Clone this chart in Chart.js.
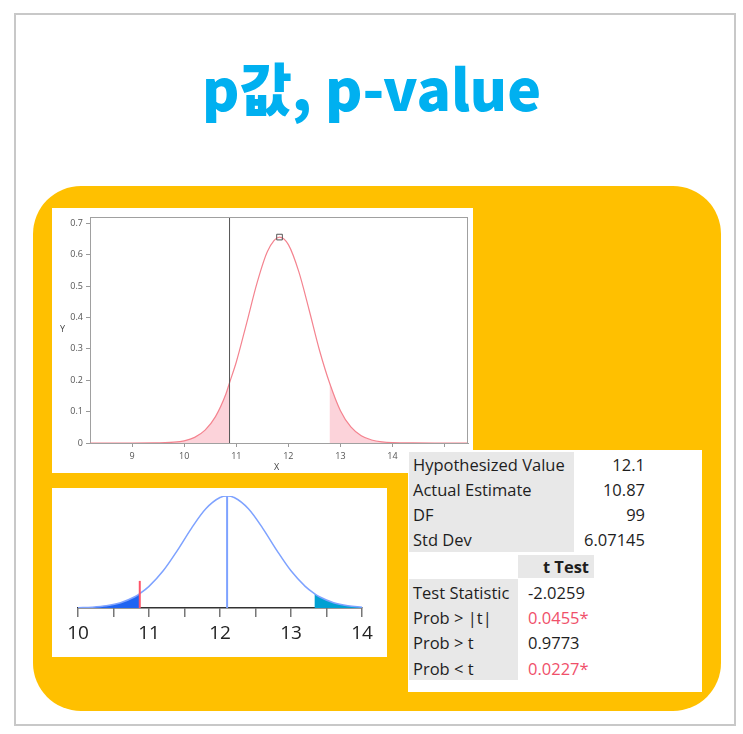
<!DOCTYPE html>
<html>
<head>
<meta charset="utf-8">
<script src="https://cdn.jsdelivr.net/npm/chart.js@4.4.0/dist/chart.umd.min.js"></script>
<style>
body { margin: 0; background: #fff; font-family: "Open Sans", sans-serif; }
#pagina { position: relative; width: 743px; height: 734px; overflow: hidden; }
.abs { position: absolute; }
#marco { left: 14px; top: 13px; width: 718px; height: 709px; border: 2px solid #c8c8c8; }
#titulo { left: 0; top: 58px; width: 743px; text-align: center; font-family: "Noto Sans CJK KR", sans-serif;
          font-weight: 900; font-size: 57px; line-height: 57px; color: #00b0f0; white-space: nowrap; }
#fondo { left: 33px; top: 186px; width: 688px; height: 525px; border-radius: 48px; background: #ffc000; }
#panelArriba { left: 52px; top: 208px; width: 421px; height: 265px; background: #fff; }
#panelAbajo { left: 52px; top: 488px; width: 335px; height: 169px; background: #fff; }
#panelTabla { left: 408px; top: 450px; width: 294px; height: 242px; background: #fff; }
.gris { position: absolute; background: #e8e8e8; }
.txt { position: absolute; height: 24px; line-height: 24px; font-size: 16.5px; color: #1e1e1e; white-space: nowrap; }
.rojo { color: #f0506a; }
.eje { position: absolute; font-size: 9px; line-height: 10px; color: #444; }
</style>
</head>
<body>
<div id="pagina">
    <div id="marco" class="abs"></div>
    <div id="titulo" class="abs">p값, p-value</div>
    <div id="fondo" class="abs"></div>
    <div id="panelArriba" class="abs">
        <canvas id="graficoT" width="421" height="265"></canvas>
    </div>
    <span class="eje" style="left:60px; top:324px;">Y</span>
    <span class="eje" style="left:274px; top:462px;">X</span>
    <div id="panelAbajo" class="abs">
        <canvas id="graficoCampana" width="335" height="169"></canvas>
    </div>
    <div id="panelTabla" class="abs"></div>
</div>

<script>
// valores de referencia
const valorHipotesis = 12.1;
const estimacion = 10.87;
const centroCurva = 11.83;
const colaDerecha = 12.79;
const colaDerechaAbajo = 13.33;

// curva superior (densidad)
const xArriba = [8.2, 8.6, 9.0, 9.4, 9.8, 10.0, 10.2, 10.4, 10.6, 10.8, 10.87, 11.0, 11.2, 11.4, 11.6, 11.83,
                 12.0, 12.2, 12.4, 12.6, 12.79, 13.0, 13.2, 13.4, 13.6, 13.8, 14.0, 14.4, 14.8, 15.2, 15.45];
const yArriba = [0, 0, 0, 0.0002, 0.0025, 0.007, 0.018, 0.041, 0.084, 0.156, 0.192, 0.258, 0.383, 0.511, 0.611, 0.656,
                 0.632, 0.546, 0.423, 0.294, 0.192, 0.103, 0.051, 0.023, 0.0094, 0.0034, 0.0011, 0.0001, 0, 0, 0];
const ticksArribaX = [9, 10, 11, 12, 13, 14, 15];

// curva inferior
const xAbajo = [10.0, 10.2, 10.4, 10.6, 10.8, 10.87, 11.0, 11.2, 11.4, 11.6, 11.8, 12.0, 12.1,
                12.2, 12.4, 12.6, 12.8, 13.0, 13.2, 13.33, 13.4, 13.6, 13.8, 14.0];
const yAbajo = [0.0016, 0.0049, 0.013, 0.031, 0.066, 0.084, 0.127, 0.218, 0.338, 0.469, 0.582, 0.648, 0.657,
                0.648, 0.582, 0.469, 0.338, 0.218, 0.127, 0.084, 0.066, 0.031, 0.013, 0.0049];
const alturaMarcaRoja = 0.159;

// tabla
const etiquetasResumen = ['Hypothesized Value', 'Actual Estimate', 'DF', 'Std Dev'];
const valoresResumen = ['12.1', '10.87', '99', '6.07145'];
const tituloPrueba = 't Test';
const etiquetasPrueba = ['Test Statistic', 'Prob > |t|', 'Prob > t', 'Prob < t'];
const valoresPrueba = ['-2.0259', '0.0455*', '0.9773', '0.0227*'];
const significativo = [false, true, false, true];

function puntos(xs, ys, filtro) {
    const out = [];
    xs.forEach((x, i) => { if (!filtro || filtro(x)) out.push({ x: x, y: ys[i] }); });
    return out;
}

const marcoPlugin = {
    id: 'marco',
    afterDraw(chart) {
        const a = chart.chartArea, c = chart.ctx;
        c.save();
        c.strokeStyle = '#a0a0a0';
        c.lineWidth = 1;
        c.beginPath();
        c.moveTo(a.left, Math.round(a.top) + 0.5);
        c.lineTo(a.right, Math.round(a.top) + 0.5);
        c.moveTo(Math.round(a.right) - 0.5, a.top);
        c.lineTo(Math.round(a.right) - 0.5, a.bottom);
        c.stroke();
        c.restore();
    }
};

function crearGraficoT() {
    const ctx = document.getElementById('graficoT').getContext('2d');
    const fuente = { size: 9, family: '"Open Sans", sans-serif' };
    new Chart(ctx, {
        type: 'line',
        data: {
            datasets: [
                {
                    data: [{ x: centroCurva, y: 0.656 }],
                    showLine: false,
                    pointStyle: 'rect',
                    pointRadius: 4,
                    borderColor: '#555',
                    borderWidth: 1,
                    backgroundColor: 'rgba(255,255,255,0)',
                    order: 0
                },
                {
                    data: [{ x: estimacion, y: 0 }, { x: estimacion, y: 0.72 }],
                    borderColor: '#555',
                    borderWidth: 1,
                    pointRadius: 0,
                    order: 1
                },
                {
                    data: puntos(xArriba, yArriba),
                    borderColor: '#f4838f',
                    borderWidth: 1.2,
                    pointRadius: 0,
                    cubicInterpolationMode: 'monotone',
                    fill: false,
                    order: 2
                },
                {
                    data: puntos(xArriba, yArriba, x => x <= estimacion),
                    borderWidth: 0,
                    pointRadius: 0,
                    backgroundColor: '#fcd3da',
                    cubicInterpolationMode: 'monotone',
                    fill: 'origin',
                    order: 3
                },
                {
                    data: puntos(xArriba, yArriba, x => x >= colaDerecha),
                    borderWidth: 0,
                    pointRadius: 0,
                    backgroundColor: '#fcd3da',
                    cubicInterpolationMode: 'monotone',
                    fill: 'origin',
                    order: 3
                }
            ]
        },
        options: {
            responsive: false,
            animation: false,
            layout: { padding: { top: 9, right: 5, left: 0, bottom: 0 } },
            plugins: { legend: { display: false }, tooltip: { enabled: false } },
            scales: {
                x: {
                    type: 'linear',
                    min: 8.19,
                    max: 15.45,
                    afterFit: function(s) { s.height = 30; },
                    afterBuildTicks: function(s) { s.ticks = ticksArribaX.map(v => ({ value: v })); },
                    ticks: { font: fuente, color: '#555', padding: 4, maxRotation: 0, autoSkip: false },
                    grid: { drawOnChartArea: false, tickLength: 4, color: '#999' },
                    border: { color: '#a0a0a0' }
                },
                y: {
                    min: 0,
                    max: 0.72,
                    afterFit: function(s) { s.width = 38; },
                    ticks: { stepSize: 0.1, includeBounds: false, font: fuente, color: '#555', padding: 3 },
                    grid: { drawOnChartArea: false, tickLength: 4, color: '#999' },
                    border: { color: '#a0a0a0' }
                }
            }
        },
        plugins: [marcoPlugin]
    });
}

function crearGraficoCampana() {
    const ctx = document.getElementById('graficoCampana').getContext('2d');
    new Chart(ctx, {
        type: 'line',
        data: {
            datasets: [
                {
                    data: [{ x: estimacion, y: 0 }, { x: estimacion, y: alturaMarcaRoja }],
                    borderColor: '#ff5468',
                    borderWidth: 2,
                    pointRadius: 0,
                    order: 0
                },
                {
                    data: [{ x: valorHipotesis, y: 0 }, { x: valorHipotesis, y: 0.657 }],
                    borderColor: '#7ea2ff',
                    borderWidth: 2,
                    pointRadius: 0,
                    order: 1
                },
                {
                    data: puntos(xAbajo, yAbajo),
                    borderColor: '#7ea2ff',
                    borderWidth: 1.5,
                    pointRadius: 0,
                    cubicInterpolationMode: 'monotone',
                    fill: false,
                    order: 2
                },
                {
                    data: puntos(xAbajo, yAbajo, x => x <= estimacion),
                    borderWidth: 0,
                    pointRadius: 0,
                    backgroundColor: '#1f64f2',
                    cubicInterpolationMode: 'monotone',
                    fill: 'origin',
                    order: 3
                },
                {
                    data: puntos(xAbajo, yAbajo, x => x >= colaDerechaAbajo),
                    borderWidth: 0,
                    pointRadius: 0,
                    backgroundColor: '#00a0d2',
                    cubicInterpolationMode: 'monotone',
                    fill: 'origin',
                    order: 3
                }
            ]
        },
        options: {
            responsive: false,
            animation: false,
            layout: { padding: { top: 8, right: 25, left: 26, bottom: 0 } },
            plugins: { legend: { display: false }, tooltip: { enabled: false } },
            scales: {
                x: {
                    type: 'linear',
                    min: 10,
                    max: 14,
                    afterFit: function(s) { s.height = 49; },
                    ticks: {
                        stepSize: 0.5,
                        autoSkip: false,
                        maxRotation: 0,
                        padding: 5,
                        color: '#222',
                        font: { size: 19, family: '"Open Sans", sans-serif' },
                        callback: function(v) { return Number.isInteger(v) ? String(v) : ''; }
                    },
                    grid: { drawOnChartArea: false, tickLength: 9, color: '#777', lineWidth: 1.5 },
                    border: { color: '#333', width: 1.5 }
                },
                y: { display: false, min: 0, max: 0.657 }
            }
        }
    });
}

function armarTabla() {
    const panel = document.getElementById('panelTabla');
    const x0 = 408, y0 = 450;
    let html = '';
    html += `<div class="gris" style="left:${409 - x0}px; top:${452 - y0}px; width:165px; height:100px;"></div>`;
    html += `<div class="gris" style="left:${518 - x0}px; top:${555 - y0}px; width:76px; height:23px;"></div>`;
    html += `<div class="gris" style="left:${409 - x0}px; top:${579 - y0}px; width:109px; height:101px;"></div>`;
    etiquetasResumen.forEach((et, i) => {
        const cy = 465 + i * 25 - y0;
        html += `<div class="txt" style="left:${413 - x0}px; top:${cy - 12}px;">${et}</div>`;
        html += `<div class="txt" style="right:${x0 + 294 - 645}px; top:${cy - 12}px; text-align:right;">${valoresResumen[i]}</div>`;
    });
    html += `<div class="txt" style="right:${x0 + 294 - 589}px; top:${567 - 12 - y0}px; font-weight:bold;">${tituloPrueba}</div>`;
    etiquetasPrueba.forEach((et, i) => {
        const cy = 593 + i * 25.2 - y0;
        const clase = significativo[i] ? 'txt rojo' : 'txt';
        html += `<div class="txt" style="left:${413 - x0}px; top:${cy - 12}px;">${et.replace('<', '&lt;').replace('>', '&gt;')}</div>`;
        html += `<div class="${clase}" style="left:${528 - x0}px; top:${cy - 12}px;">${valoresPrueba[i]}</div>`;
    });
    panel.innerHTML = html;
}

armarTabla();
crearGraficoT();
crearGraficoCampana();
</script>
</body>
</html>
